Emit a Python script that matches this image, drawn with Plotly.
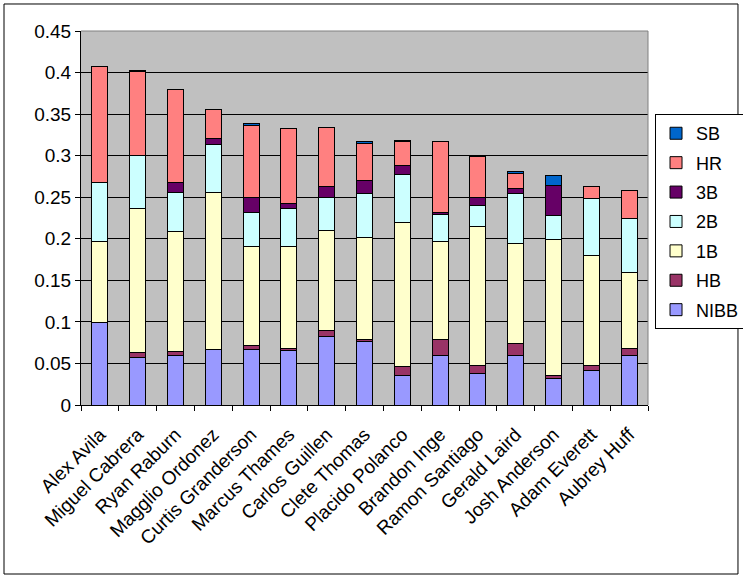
import plotly.graph_objects as go

# players in chart order
players = ["Alex Avila", "Miguel Cabrera", "Ryan Raburn", "Magglio Ordonez",
           "Curtis Granderson", "Marcus Thames", "Carlos Guillen", "Clete Thomas",
           "Placido Polanco", "Brandon Inge", "Ramon Santiago", "Gerald Laird",
           "Josh Anderson", "Adam Everett", "Aubrey Huff"]

# per-PA rates, stacked bottom to top
nibb = [0.099, 0.057, 0.059, 0.067, 0.067, 0.066, 0.082, 0.076, 0.035, 0.059, 0.038, 0.060, 0.032, 0.041, 0.060]
hb = [0.0, 0.006, 0.005, 0.0, 0.004, 0.0015, 0.0075, 0.003, 0.011, 0.020, 0.010, 0.014, 0.004, 0.007, 0.008]
single = [0.098, 0.173, 0.145, 0.189, 0.120, 0.123, 0.120, 0.123, 0.173, 0.118, 0.167, 0.120, 0.163, 0.132, 0.091]
double = [0.071, 0.064, 0.047, 0.058, 0.041, 0.046, 0.040, 0.053, 0.058, 0.032, 0.025, 0.061, 0.029, 0.069, 0.065]
triple = [0.0, 0.0, 0.012, 0.007, 0.018, 0.006, 0.013, 0.015, 0.011, 0.0025, 0.010, 0.006, 0.036, 0.0, 0.0]
hr = [0.139, 0.101, 0.112, 0.035, 0.086, 0.090, 0.071, 0.045, 0.029, 0.086, 0.049, 0.017, 0.0, 0.014, 0.034]
sb = [0.0, 0.0015, 0.0, 0.0, 0.0025, 0.0, 0.0, 0.0025, 0.001, 0.0, 0.0, 0.0025, 0.012, 0.0, 0.0]

y_ticks = [0, 0.05, 0.1, 0.15, 0.2, 0.25, 0.3, 0.35, 0.4, 0.45]
y_labels = ["0", "0.05", "0.1", "0.15", "0.2", "0.25", "0.3", "0.35", "0.4", "0.45"]

series = [
    ("NIBB", nibb, "#9999FF"),
    ("HB", hb, "#993366"),
    ("1B", single, "#FFFFCC"),
    ("2B", double, "#CCFFFF"),
    ("3B", triple, "#660066"),
    ("HR", hr, "#FF8080"),
    ("SB", sb, "#0066CC"),
]

fig = go.Figure()
for i, (name, vals, color) in enumerate(series):
    # one legend group per series so tracegroupgap spaces the entries out,
    # rank puts the top of the stack first in the legend
    fig.add_trace(go.Bar(
        x=players, y=vals, name=name, legendgroup=name,
        legendrank=len(series) - i,
        marker=dict(color=color, line=dict(color="black", width=1)),
    ))

font = dict(family="Liberation Sans, Arial, sans-serif", size=19, color="black")

fig.update_layout(
    barmode="stack",
    bargap=0.58,
    width=743, height=579,
    margin=dict(l=81, r=95, t=31, b=174),
    plot_bgcolor="#C0C0C0",
    paper_bgcolor="white",
    font=font,
    legend=dict(
        traceorder="grouped", tracegroupgap=3,
        xref="container", yref="container",
        x=0.8816, y=0.803, xanchor="left", yanchor="top",
        bgcolor="white", bordercolor="black", borderwidth=1,
        font=dict(size=18),
    ),
    xaxis=dict(
        tickangle=-45, showline=True, linecolor="black", linewidth=1,
        ticks="outside", ticklen=5, tickcolor="black", tickson="boundaries",
        showgrid=False, automargin=False, ticklabelstandoff=10,
    ),
    yaxis=dict(
        range=[0, 0.45], tickvals=y_ticks, ticktext=y_labels,
        showline=True, linecolor="black", linewidth=1,
        ticks="outside", ticklen=5, tickcolor="black",
        showgrid=True, gridcolor="black", gridwidth=1, zeroline=False,
        automargin=False,
    ),
    shapes=[
        # plot area border (top and right) in gray
        dict(type="line", xref="paper", yref="paper", x0=0, x1=1, y0=1, y1=1,
             line=dict(color="#808080", width=1), layer="above"),
        dict(type="line", xref="paper", yref="paper", x0=1, x1=1, y0=0, y1=1,
             line=dict(color="#808080", width=1), layer="above"),
        # outer chart border
        dict(type="rect", xref="paper", yref="paper", x0=-0.1358, x1=1.1587,
             y0=-0.4519, y1=1.0722, line=dict(color="black", width=1)),
    ],
)

fig.write_html("out.html", config={"displayModeBar": False},
               post_script="document.body.style.margin='0';")
